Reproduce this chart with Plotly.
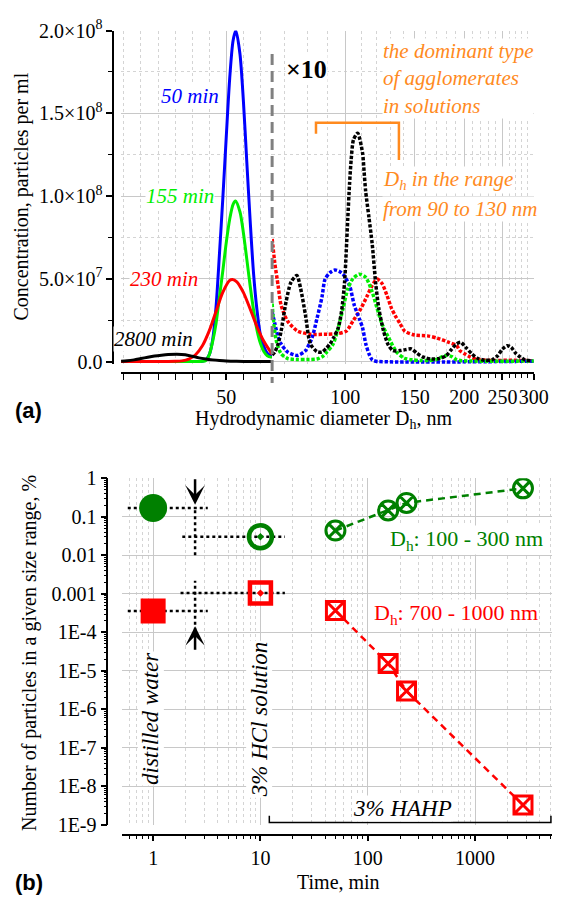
import plotly.graph_objects as go

W, H = 568, 907
def fx(p): return p / W
def fy(p): return 1 - p / H

SERIF = "Liberation Serif, Times New Roman, serif"
SANS = "Liberation Sans, Arial, sans-serif"
E7 = 1e7

# ---------------- Panel (a) data ----------------
# left part (linear scale): Dh in nm, concentration in 1e7 particles/ml
dh_50 = [19.2, 40, 43, 44, 45, 46, 47, 48, 49, 50, 51, 52, 52.8, 54, 55, 56, 57, 58, 59, 60, 61, 62, 63.4]
c_50 = [0, 0, 0.02, 0.1, 0.4, 1.3, 3.3, 6.5, 9.9, 13.6, 17.1, 19.4, 20.0, 18.6, 15.8, 12.1, 8.5, 5.3, 3.1, 1.6, 0.9, 0.5, 0.3]
dh_155 = [19.2, 40, 43, 44, 45, 46, 47, 48, 49, 50, 51, 52, 52.7, 54, 55, 56, 57, 58, 59, 60, 61, 62, 63.4]
c_155 = [0, 0, 0.01, 0.06, 0.4, 1.2, 2.3, 3.9, 5.5, 7.2, 8.6, 9.5, 9.7, 9.05, 7.8, 6.2, 4.56, 3.1, 1.9, 1.1, 0.6, 0.35, 0.25]
dh_230 = [19.2, 33, 35, 37, 39, 41, 43, 45, 47, 49, 51, 51.8, 53, 55, 57, 59, 61, 63.4]
c_230 = [0, 0, 0.01, 0.04, 0.15, 0.41, 0.95, 1.85, 3.03, 4.19, 4.9, 4.95, 4.83, 4.18, 3.17, 2.1, 1.22, 0.45]
dh_2800 = [19.2, 21, 23, 25, 27, 29, 31, 33, 35.5, 38, 40, 42, 44, 46, 48, 50, 53, 57, 63.4]
c_2800 = [0.01, 0.04, 0.10, 0.18, 0.26, 0.33, 0.38, 0.42, 0.44, 0.41, 0.32, 0.22, 0.15, 0.10, 0.06, 0.03, 0.01, 0.0, 0.0]

# right part (log scale), values as displayed (magnified x10), 1e7 particles/ml
dhR_50 = [65.3, 66.3, 67.5, 68.8, 71.5, 75.7, 79.3, 82.4, 84.8, 87.3, 88.9, 91.5, 94.1, 96.5, 98.7, 102.5, 105.4, 108.5, 110.6, 112.7, 114.8, 117, 119.5, 300]
cR_50 = [3.0, 2.3, 1.55, 1.06, 0.57, 0.37, 0.66, 1.45, 2.6, 3.9, 4.98, 5.37, 5.53, 5.45, 5.28, 4.6, 3.4, 2.6, 2.04, 1.06, 0.47, 0.1, 0.02, 0.02]
dhR_155 = [65.3, 65.8, 66.9, 68.8, 71.5, 75.7, 80.1, 84.8, 87.5, 89.8, 93.2, 95.9, 98.7, 101.5, 104.5, 108.5, 112.7, 117, 120.4, 124, 128.7, 134.9, 141, 148, 155, 163, 170, 176, 181, 186, 191, 197, 300]
cR_155 = [3.5, 2.43, 1.25, 0.47, 0.18, 0.12, 0.12, 0.15, 0.3, 0.57, 1.06, 2.0, 3.2, 4.4, 5.0, 5.28, 5.08, 4.2, 3.2, 2.24, 1.45, 0.57, 0.2, 0.1, 0.06, 0.06, 0.12, 0.3, 0.38, 0.3, 0.12, 0.05, 0.03]
dhR_230 = [65.3, 66.3, 67.6, 68.8, 71.5, 75.7, 81.6, 89.8, 95.9, 100.6, 104.5, 109.5, 113.8, 117, 120.4, 124, 127.5, 131, 133.6, 137.5, 141.4, 149.7, 161.5, 171, 183, 191.5, 195, 201, 207, 216, 226, 240, 260, 280, 300]
cR_230 = [7.4, 5.96, 4.6, 3.4, 2.43, 1.84, 1.65, 1.65, 1.69, 1.84, 2.43, 3.2, 4.0, 4.6, 4.98, 4.7, 4.0, 3.2, 2.8, 2.3, 1.84, 1.6, 1.55, 1.41, 1.16, 0.96, 0.66, 0.45, 0.28, 0.12, 0.08, 0.06, 0.08, 0.06, 0.05]
dhR_2800 = [65.3, 66.3, 67.6, 68.8, 70.8, 72.9, 75.4, 77.1, 79.3, 81.6, 84.8, 87.3, 89.5, 91.5, 93.7, 95.9, 97.8, 99.6, 100.6, 101.5, 102.5, 103.5, 104.9, 107.5, 110.6, 111.6, 112.6, 114.8, 117, 119.3, 121.6, 125, 128.5, 132, 137.5, 142, 147, 152, 157, 165, 173, 180, 186, 191, 196, 202, 209, 216, 225, 235, 243, 250, 257, 263, 270, 277, 285, 295]
cR_2800 = [0.4, 0.57, 1.06, 1.84, 3.6, 4.8, 5.2, 4.4, 2.8, 1.06, 0.6, 0.57, 0.8, 1.06, 1.5, 2.0, 3.0, 4.8, 6.75, 8.7, 10.7, 12.2, 13.4, 13.8, 12.6, 11.45, 10.3, 8.7, 7.1, 4.8, 3.2, 1.84, 1.0, 0.66, 0.66, 0.72, 0.76, 0.5, 0.28, 0.15, 0.18, 0.35, 0.75, 1.05, 1.16, 0.85, 0.47, 0.2, 0.08, 0.1, 0.35, 0.75, 0.96, 0.85, 0.5, 0.28, 0.1, 0.05]

a_yticks = [0, 5e7, 1e8, 1.5e8, 2e8]
a_yticktext = ["0.0", "5.0×10<sup>7</sup>", "1.0×10<sup>8</sup>", "1.5×10<sup>8</sup>", "2.0×10<sup>8</sup>"]
a_xR_ticks = [100, 150, 200, 250, 300]
# bracket for the dominant agglomerates (nm, particles/ml)
br_nm = [84.3, 84.3, 136.7, 136.7]
br_c = [1.376e8, 1.443e8, 1.443e8, 1.218e8]

# ---------------- Panel (b) data ----------------
t_hahp = [50, 155, 230, 2800]
p_100_300 = [0.044, 0.147, 0.23, 0.55]
p_700_1000 = [3.7e-4, 1.56e-5, 3.0e-6, 3.3e-9]
t_water, g_water, r_water = 1, 0.17, 3.6e-4
t_hcl, g_hcl, r_hcl = 10, 0.0305, 1.05e-3
# dotted guide lines (time, %)
guides = [
    ([0.58, 3.23], [g_water, g_water]),
    ([1.87, 16.9], [g_hcl, g_hcl]),
    ([2.46, 2.46], [0.0101, g_water]),
    ([0.58, 3.23], [r_water, r_water]),
    ([1.8, 16.9], [r_hcl, r_hcl]),
    ([2.46, 2.46], [1.1e-4, 2.2e-3]),
]
hahp_t = [12.1, 12.1, 5100, 5100]
hahp_p = [1.73e-9, 1.15e-9, 1.15e-9, 1.73e-9]
b_yticks = [1, 0.1, 0.01, 0.001, 1e-4, 1e-5, 1e-6, 1e-7, 1e-8, 1e-9]
b_yticktext = ["1", "0.1", "0.01", "0.001", "1E-4", "1E-5", "1E-6", "1E-7", "1E-8", "1E-9"]
b_xticks = [1, 10, 100, 1000]

fig = go.Figure()
for x, y, col in [(dh_50, c_50, "#0000FF"), (dh_155, c_155, "#00EE00"),
                  (dh_230, c_230, "#FF0000"), (dh_2800, c_2800, "#000000")]:
    fig.add_trace(go.Scatter(x=x, y=[v * E7 for v in y], xaxis="x", yaxis="y", mode="lines",
                             line=dict(color=col, width=3, shape="spline", smoothing=0.8),
                             showlegend=False, hoverinfo="skip"))
for x, y, col in [(dhR_230, cR_230, "#FF0000"), (dhR_50, cR_50, "#0000FF"),
                  (dhR_155, cR_155, "#00EE00"), (dhR_2800, cR_2800, "#000000")]:
    fig.add_trace(go.Scatter(x=x, y=[v * E7 for v in y], xaxis="x2", yaxis="y", mode="lines",
                             line=dict(color=col, width=3.5, dash="3.4px,1.8px", shape="spline", smoothing=0.7),
                             showlegend=False, hoverinfo="skip"))
ORANGE = "#FF8A1E"
fig.add_trace(go.Scatter(x=br_nm, y=br_c, xaxis="x2", yaxis="y", mode="lines",
                         line=dict(color=ORANGE, width=2.5), showlegend=False, hoverinfo="skip"))
for gx, gy in guides:
    fig.add_trace(go.Scatter(x=gx, y=gy, xaxis="x3", yaxis="y3", mode="lines",
                             line=dict(color="black", width=2.5, dash="dot"), showlegend=False, hoverinfo="skip"))
fig.add_trace(go.Scatter(x=hahp_t, y=hahp_p, xaxis="x3", yaxis="y3", mode="lines",
                         line=dict(color="black", width=1.5), showlegend=False, hoverinfo="skip"))
GREEN = "#008000"
RED = "#FF0000"
fig.add_trace(go.Scatter(x=t_hahp, y=p_100_300, xaxis="x3", yaxis="y3", mode="lines+markers",
                         line=dict(color=GREEN, width=2.5, dash="7px,5px"),
                         marker=dict(symbol="circle-x-open", size=19, color=GREEN, line=dict(width=3, color=GREEN)),
                         showlegend=False, hoverinfo="skip"))
fig.add_trace(go.Scatter(x=t_hahp, y=p_700_1000, xaxis="x3", yaxis="y3", mode="lines+markers",
                         line=dict(color=RED, width=2.5, dash="7px,5px"),
                         marker=dict(symbol="square-x-open", size=18, color=RED, line=dict(width=3, color=RED)),
                         showlegend=False, hoverinfo="skip"))
fig.add_trace(go.Scatter(x=[t_water], y=[g_water], xaxis="x3", yaxis="y3", mode="markers",
                         marker=dict(symbol="circle", size=28, color=GREEN), showlegend=False, hoverinfo="skip"))
fig.add_trace(go.Scatter(x=[t_water], y=[r_water], xaxis="x3", yaxis="y3", mode="markers",
                         marker=dict(symbol="square", size=25, color=RED), showlegend=False, hoverinfo="skip"))
fig.add_trace(go.Scatter(x=[t_hcl], y=[g_hcl], xaxis="x3", yaxis="y3", mode="markers",
                         marker=dict(symbol="circle-open-dot", size=23, color=GREEN, line=dict(width=4.5, color=GREEN)),
                         showlegend=False, hoverinfo="skip"))
fig.add_trace(go.Scatter(x=[t_hcl], y=[r_hcl], xaxis="x3", yaxis="y3", mode="markers",
                         marker=dict(symbol="square-open-dot", size=21, color=RED, line=dict(width=4.5, color=RED)),
                         showlegend=False, hoverinfo="skip"))

tickfont = dict(family=SERIF, size=20, color="black")
common = dict(showline=True, linecolor="black", linewidth=1.5, ticks="outside", tickwidth=1.5,
              tickcolor="black", zeroline=False, tickfont=tickfont, gridcolor="#C8C8C8", gridwidth=1, tickangle=0)
minor_common = dict(ticks="outside", tickwidth=1.2, tickcolor="black")
b_minor_x = [k * 10 ** n for n in range(-1, 4) for k in range(2, 10)]
b_minor_y = [k * 10.0 ** n for n in range(-9, 0) for k in range(2, 10)]

fig.update_layout(
    width=W, height=H, autosize=False, margin=dict(l=0, r=0, t=0, b=0),
    paper_bgcolor="white", plot_bgcolor="white", showlegend=False,
    xaxis=dict(domain=[fx(124), fx(279)], range=[19.14, 63.43], anchor="free", position=fy(370),
               tickvals=[50], ticktext=["50"], ticklen=6, showgrid=True,
               minor=dict(tickvals=[20, 25, 30, 35, 40, 45, 55, 60], ticklen=6, showgrid=True,
                          gridcolor="#D4D4D4", griddash="dot", **minor_common), **common),
    xaxis2=dict(type="log", domain=[fx(279), fx(548)], range=[1.8148, 2.4790], anchor="free", position=fy(370),
                tickvals=a_xR_ticks, ticktext=[str(v) for v in a_xR_ticks], ticklen=6, showgrid=True,
                minor=dict(tickvals=[70, 80, 90, 110, 120, 130, 140, 160, 170, 180, 190, 210, 220, 230, 240, 260, 270, 280, 290],
                           ticklen=4, showgrid=True, gridcolor="#D4D4D4", griddash="dot", **minor_common), **common),
    yaxis=dict(domain=[fy(360.55), fy(18)], range=[-0.015e8, 2.0e8], anchor="free", position=fx(116),
               tickvals=a_yticks, ticktext=a_yticktext, ticklen=6, showgrid=True,
               minor=dict(tickvals=[2.5e7, 7.5e7, 1.25e8, 1.75e8], ticklen=4, showgrid=True,
                          gridcolor="#D4D4D4", griddash="dot", **minor_common), **common),
    xaxis3=dict(type="log", domain=[fx(125), fx(566)], range=[-0.291, 3.718], anchor="free", position=fy(844),
                tickvals=b_xticks, ticktext=[str(v) for v in b_xticks], ticklen=6, showgrid=True,
                minor=dict(tickvals=b_minor_x, ticklen=4, showgrid=True, gridcolor="#D4D4D4",
                           griddash="dot", **minor_common), **common),
    yaxis3=dict(type="log", domain=[fy(834), fy(478)], range=[-9, 0], anchor="free", position=fx(110),
                tickvals=b_yticks, ticktext=b_yticktext, ticklen=6, showgrid=True,
                minor=dict(tickvals=b_minor_y, ticklen=3, showgrid=False, **minor_common), **common),
)

fig.add_shape(type="line", xref="paper", yref="paper", x0=fx(279), x1=fx(279), y0=fy(42), y1=fy(380),
              line=dict(color="#808080", width=3, dash="11px,6px"))

def ann(text, px, py, size=20, color="black", angle=0, bg="white", xanchor="center", family=SERIF, align="center"):
    fig.add_annotation(text=text, x=fx(px), y=fy(py), xref="paper", yref="paper", showarrow=False,
                       textangle=angle, xanchor=xanchor, yanchor="middle", align=align,
                       font=dict(family=family, size=size, color=color),
                       bgcolor=bg, borderpad=0)

# panel (a) texts
ann("Concentration, particles per ml", 22, 188, angle=-90, bg=None)
ann("Hydrodynamic diameter D<sub>h</sub>, nm", 332, 418, bg=None)
ann("<i>50 min</i>", 195, 85, size=21, color="#0000FF")
ann("<i>155 min</i>", 185, 188, size=21, color="#00EE00")
ann("<i>230 min</i>", 168, 273, size=21, color="#FF0000")
ann("<i>2800 min</i>", 157, 335, size=21)
ann("<b>×10</b>", 314, 58, size=26)
ann("<i>the dominant type<br>of agglomerates<br>in solutions</i>", 392, 67, size=21, color=ORANGE,
    xanchor="left", align="left")
ann("<i>D<sub>h</sub> in the range</i>", 392, 172, size=21, color=ORANGE, xanchor="left")
ann("<i>from 90 to 130 nm</i>", 392, 201, size=21, color=ORANGE, xanchor="left")
ann("<b>(a)</b>", 29, 408, size=22, family=SANS, bg=None)

# panel (b) texts
ann("Number of particles in a given size range, %", 30, 657, angle=-90, bg=None)
ann("Time, min", 347, 893, bg=None)
ann("D<sub>h</sub>: 100 - 300 nm", 399, 541, size=22, color=GREEN, xanchor="left")
ann("D<sub>h</sub>: 700 - 1000 nm", 382, 617, size=22, color=RED, xanchor="left")
ann("<i>distilled water</i>", 155, 725, size=23, angle=-90)
ann("<i>3% HCl solution</i>", 266, 725, size=23, angle=-90)
ann("<i>3% HAHP</i>", 413, 817, size=23)
ann("<b>(b)</b>", 30, 893, size=22, family=SANS, bg=None)

# arrows
for tip, dy in [(505, -27), (630, 25)]:
    fig.add_annotation(x=fx(200), y=fy(tip), xref="paper", yref="paper", ax=0, ay=dy, text="",
                       showarrow=True, arrowhead=3, arrowsize=1.3, arrowwidth=2.5, arrowcolor="black")

fig.write_html("out.html", config={"displayModeBar": False},
               post_script="document.body.style.margin='0';")
